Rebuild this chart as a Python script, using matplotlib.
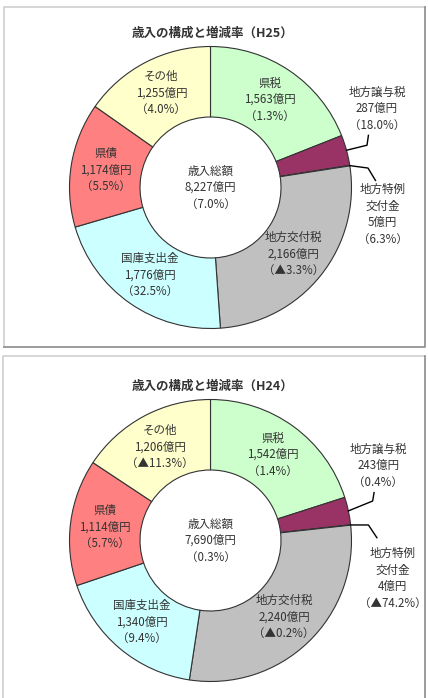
import matplotlib
matplotlib.use("Agg")
import matplotlib.pyplot as plt
import numpy as np

plt.rcParams["font.family"] = ["Noto Sans CJK JP", "DejaVu Sans"]

# clockwise from 12 o'clock
names = ["県税", "地方譲与税", "地方特例\n交付金", "地方交付税", "国庫支出金", "県債", "その他"]
colors = ["#CCFFCC", "#993366", "#9999FF", "#C0C0C0", "#CCFFFF", "#FF8080", "#FFFFCC"]

h25_values = [1563, 287, 5, 2166, 1776, 1174, 1255]
h25_rates = ["1.3%", "18.0%", "6.3%", "▲3.3%", "32.5%", "5.5%", "4.0%"]
h25_total = "8,227億円"
h25_total_rate = "7.0%"

h24_values = [1542, 243, 4, 2240, 1340, 1114, 1206]
h24_rates = ["1.4%", "0.4%", "▲74.2%", "▲0.2%", "9.4%", "5.7%", "▲11.3%"]
h24_total = "7,690億円"
h24_total_rate = "0.3%"

W, H = 428, 698
txt = "#333333"
fig = plt.figure(figsize=(W / 100, H / 100), dpi=100)
fig.patch.set_facecolor("white")

# background axes in pixel units for the frames
bg = fig.add_axes([0, 0, 1, 1])
bg.set_xlim(0, W)
bg.set_ylim(H, 0)
bg.axis("off")
for (x0, y0, x1, y1) in [(4, 7, 425, 347), (3, 356, 425, 710)]:
    bg.plot([x0, x0, x1], [y1, y0, y0], color="#cfcfcf", lw=1.2)
    bg.plot([x0, x1, x1], [y1, y1, y0], color="#8a8a8a", lw=1.2)


def donut(cx, cy, r, title, values, rates, total, total_rate, out_labels):
    fig.text(cx / W + 0.006, 1 - (cy - 154) / H, title, ha="center", va="center",
             fontsize=9, fontweight="bold", color=txt)
    ax = fig.add_axes([(cx - r) / W, 1 - (cy + r) / H, 2 * r / W, 2 * r / H])
    wedges, _ = ax.pie(values, colors=colors, startangle=90, counterclock=False,
                       radius=1, wedgeprops=dict(width=0.5, edgecolor="#333333", linewidth=0.8))
    ax.set_xlim(-1, 1)
    ax.set_ylim(-1, 1)
    ax.set_aspect("equal")
    for i, w in enumerate(wedges):
        amount = f"{values[i]:,}億円"
        label = f"{names[i]}\n{amount}\n（{rates[i]}）"
        ang = np.deg2rad((w.theta1 + w.theta2) / 2)
        if i in out_labels:
            (tx, ty), (mx, my), (ex, ey) = out_labels[i]
            sx, sy = np.cos(ang), np.sin(ang)
            ax.plot([sx, mx, ex], [sy, my, ey], color="black", lw=1.0, clip_on=False)
            ax.text(tx, ty, label, ha="center", va="center", fontsize=8.3,
                    color=txt, linespacing=1.35, clip_on=False)
        else:
            ax.text(0.755 * np.cos(ang), 0.755 * np.sin(ang), label, ha="center", va="center",
                    fontsize=8.3, color=txt, linespacing=1.35)
    ax.text(0, 0.0, f"歳入総額\n{total}\n（{total_rate}）", ha="center", va="center",
            fontsize=8.3, color=txt, linespacing=1.35)


donut(210.5, 187.5, 141, "歳入の構成と増減率（H25）", h25_values, h25_rates, h25_total, h25_total_rate,
      {1: ((1.18, 0.56), (1.11, 0.30), (1.12, 0.37)),
       2: ((1.22, -0.19), (1.117, 0.138), (1.17, 0.05))})
donut(210.5, 540.5, 141, "歳入の構成と増減率（H24）", h24_values, h24_rates, h24_total, h24_total_rate,
      {1: ((1.19, 0.53), (1.15, 0.28), (1.16, 0.34)),
       2: ((1.29, -0.27), (1.12, 0.11), (1.18, 0.02))})

fig.savefig("out.png", dpi=100)
